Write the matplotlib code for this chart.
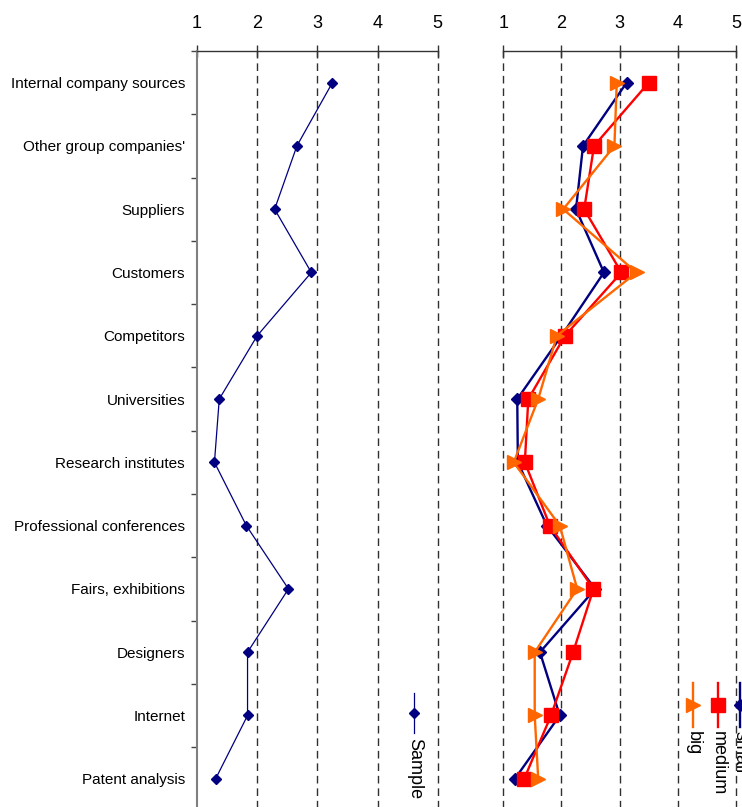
import matplotlib
matplotlib.use("Agg")
import matplotlib.pyplot as plt
from matplotlib.lines import Line2D
import numpy as np

plt.rcParams['font.family'] = ['Liberation Sans', 'DejaVu Sans']

categories = ["Internal company sources", "Other group companies'", "Suppliers",
              "Customers", "Competitors", "Universities", "Research institutes",
              "Professional conferences", "Fairs, exhibitions", "Designers",
              "Internet", "Patent analysis"]
sample = [3.25, 2.66, 2.29, 2.90, 2.00, 1.37, 1.29, 1.82, 2.52, 1.84, 1.84, 1.31]
small = [3.12, 2.37, 2.25, 2.73, 2.00, 1.24, 1.25, 1.75, 2.58, 1.63, 1.97, 1.20]
medium = [3.50, 2.56, 2.39, 3.03, 2.06, 1.43, 1.37, 1.80, 2.55, 2.20, 1.82, 1.36]
big = [2.95, 2.91, 2.03, 3.29, 1.92, 1.60, 1.18, 1.97, 2.27, 1.54, 1.54, 1.60]
xticks = [1, 2, 3, 4, 5]

W, H = 742, 807
fig = plt.figure(figsize=(W / 100, H / 100), dpi=100)

def fx(px):
    return px / W

def fy(py):
    return 1 - py / H

top_px, bot_px = 51.0, 810.4
axL = fig.add_axes([fx(197), fy(bot_px), fx(437.7) - fx(197), (bot_px - top_px) / H])
axR = fig.add_axes([fx(503.3), fy(bot_px), fx(736) - fx(503.3), (bot_px - top_px) / H])

y = np.arange(len(categories))
NAVY = '#000080'
RED = '#FF0000'
ORANGE = '#FF6600'
GRID = '#303030'
dash = (0, (5.5, 3.5))

for ax in (axL, axR):
    ax.set_xlim(1, 5)
    ax.set_ylim(len(categories) - 0.5, -0.5)
    ax.xaxis.set_ticks_position('top')
    ax.set_xticks(xticks)
    ax.set_xticklabels([str(t) for t in xticks])
    ax.tick_params(axis='x', which='major', direction='inout', length=9, width=1,
                   color='#333333', labelsize=13, pad=9)
    for s in ('right', 'bottom'):
        ax.spines[s].set_visible(False)
    ax.spines['top'].set_color('#333333')
    ax.spines['top'].set_linewidth(1)
    ax.set_facecolor('none')

# gridlines
for gx in [2, 3, 4, 5]:
    axL.axvline(gx, color=GRID, lw=1, linestyle=dash, zorder=1, clip_on=False)
for gx in [1, 2, 3, 4, 5]:
    axR.axvline(gx, color=GRID, lw=1, linestyle=dash, zorder=1, clip_on=False)

# left y axis
axL.set_yticks(y)
axL.set_yticklabels(categories, fontsize=11)
axL.tick_params(axis='y', which='major', length=0, pad=8.6)
axL.set_yticks(np.arange(-0.5, len(categories) + 0.5, 1), minor=True)
axL.tick_params(axis='y', which='minor', length=4, width=1, color='#444444', direction='out')
axL.spines['left'].set_color('#808080')
axL.spines['left'].set_linewidth(1.5)

axR.spines['left'].set_visible(False)
axR.set_yticks([])

# data
axL.plot(sample, y, color=NAVY, lw=0.9, marker='D', ms=5, zorder=3)

axR.plot(small, y, color=NAVY, lw=1.7, marker='D', ms=6.5, zorder=3)
axR.plot(medium, y, color=RED, lw=1.7, marker='s', ms=9.5, zorder=4)
axR.plot(big, y, color=ORANGE, lw=1.7, marker='>', ms=10.5, zorder=5)

# legends (rotated, drawn manually)
def legend_entry(xp, y0, y1, ym, color, lw, marker, ms, label, ty):
    fig.add_artist(Line2D([fx(xp), fx(xp)], [fy(y0), fy(y1)], color=color, lw=lw,
                          transform=fig.transFigure))
    fig.add_artist(Line2D([fx(xp)], [fy(ym)], color=color, marker=marker, ms=ms,
                          lw=0, transform=fig.transFigure))
    fig.text(fx(xp + 0.5), fy(ty), label, rotation=-90, ha='center', va='top',
             fontsize=13, color='black')

legend_entry(414, 693, 733, 713, NAVY, 0.9, 'D', 5, 'Sample', 738)
legend_entry(740, 683, 727, 705, NAVY, 1.7, 'D', 6.5, 'small', 731)
legend_entry(717.5, 683, 727, 705, RED, 1.7, 's', 9.5, 'medium', 731)
legend_entry(692.5, 683, 727, 705, ORANGE, 1.7, '>', 10.5, 'big', 731)

fig.savefig('out.png', dpi=100)
